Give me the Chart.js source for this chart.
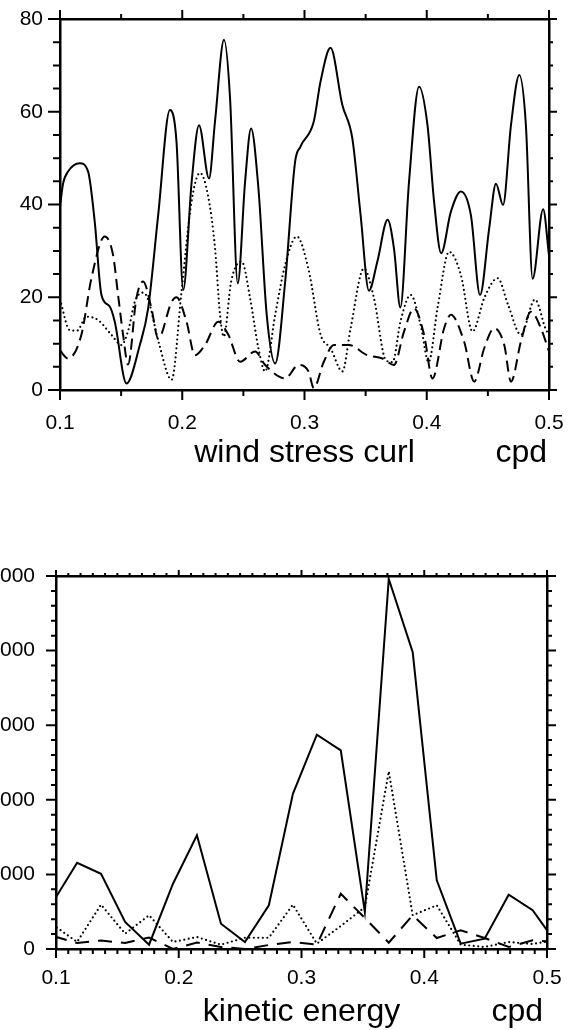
<!DOCTYPE html>
<html>
<head>
<meta charset="utf-8">
<title>Spectra</title>
<script src="https://cdn.jsdelivr.net/npm/chart.js@4.4.0/dist/chart.umd.min.js"></script>
<style>
  html, body { margin: 0; padding: 0; background: #fff; overflow: hidden; }
  #page { position: relative; width: 569px; height: 1030px; overflow: hidden; background: #fff; }
  canvas { position: absolute; left: 0; }
  #curlChart { top: 0; }
  #keChart { top: 520px; }
</style>
</head>
<body>
<div id="page">
  <canvas id="curlChart" width="569" height="480"></canvas>
  <canvas id="keChart" width="569" height="520"></canvas>
</div>
<script>
const FONT = "'Liberation Sans', Arial, Helvetica, sans-serif";

// axis ticks
const freqTicks = [0.1, 0.2, 0.3, 0.4, 0.5];
const curlTicks = [0, 20, 40, 60, 80];
const keTicks = [0, 1000, 2000, 3000, 4000, 5000];

// wind stress curl spectra
const curlFreqSolid = [0.100, 0.1025, 0.1066, 0.1161, 0.1230, 0.1284, 0.1339, 0.1407, 0.1448, 0.1544,
  0.1653, 0.1721, 0.1803, 0.1899, 0.1953, 0.2008, 0.2077, 0.2137, 0.2219, 0.2268,
  0.2342, 0.2391, 0.2454, 0.2514, 0.2563, 0.2623, 0.2691, 0.2760, 0.2842, 0.2923,
  0.2967, 0.3076, 0.3131, 0.3213, 0.3309, 0.3391, 0.3459, 0.3527, 0.3596, 0.3680,
  0.3732, 0.3784, 0.3855, 0.3937, 0.4006, 0.4060, 0.4118, 0.4197, 0.4279, 0.4361,
  0.4436, 0.4511, 0.4566, 0.4624, 0.4689, 0.4757, 0.4811, 0.4866, 0.4952, 0.5000];
const curlSolid = [39.5, 44.5, 47.1, 48.9, 47.1, 36.3, 20.5, 18.0, 14.7, 1.4,
  9.7, 17.6, 37.7, 60.4, 53.5, 21.6, 44.9, 57.1, 45.6, 57.9,
  75.5, 62.9, 23.0, 44.9, 56.4, 43.5, 16.2, 5.7, 23.4, 49.2,
  52.5, 57.9, 66.5, 73.8, 61.5, 54.3, 37.7, 21.4, 27.7, 36.7,
  30.5, 17.8, 44.9, 65.4, 57.1, 40.6, 29.5, 38.4, 42.8, 37.7,
  20.5, 34.9, 44.5, 39.9, 57.1, 67.9, 57.1, 24.0, 39.0, 29.0];

const curlFreqDotted = [0.100, 0.108, 0.114, 0.1216, 0.1311, 0.1420, 0.1503, 0.1560, 0.1612, 0.1680,
  0.1721, 0.1810, 0.1913, 0.1994, 0.2076, 0.2145, 0.2210, 0.2268, 0.2309, 0.2340,
  0.2400, 0.2486, 0.2555, 0.2623, 0.2678, 0.2760, 0.2842, 0.2937, 0.3033, 0.3131,
  0.3213, 0.3310, 0.3377, 0.3486, 0.3568, 0.3664, 0.3720, 0.3787, 0.3869, 0.3950,
  0.4015, 0.4090, 0.4183, 0.4279, 0.4375, 0.4470, 0.4580, 0.4666, 0.4770, 0.4885,
  0.4975, 0.5000];
const curlDotted = [19.5, 12.9, 12.8, 15.8, 15.1, 11.9, 9.7, 13.0, 19.0, 21.0,
  19.5, 10.0, 2.2, 21.2, 40.6, 46.8, 42.0, 30.6, 16.2, 11.5,
  23.4, 27.7, 19.8, 9.0, 4.0, 16.2, 27.0, 33.1, 26.0, 12.0,
  9.0, 4.0, 13.3, 26.2, 19.8, 6.5, 6.0, 15.0, 20.5, 14.0,
  6.0, 18.0, 29.8, 24.8, 12.6, 19.8, 24.1, 18.3, 11.9, 19.5,
  13.0, 12.0];

const curlFreqDashed = [0.1000, 0.1066, 0.1175, 0.1257, 0.1366, 0.1434, 0.1475, 0.1516, 0.1557, 0.1625,
  0.1680, 0.1748, 0.1803, 0.1913, 0.1953, 0.2035, 0.2104, 0.2186, 0.2295, 0.2377,
  0.2473, 0.2596, 0.2678, 0.2842, 0.2951, 0.3033, 0.3076, 0.3158, 0.3240, 0.3363,
  0.3514, 0.3637, 0.3732, 0.3814, 0.3896, 0.3978, 0.4047, 0.4142, 0.4197, 0.4306,
  0.4388, 0.4470, 0.4552, 0.4634, 0.4689, 0.4770, 0.4852, 0.4934, 0.5000];
const curlDashed = [8.5, 6.8, 11.9, 24.1, 33.1, 29.1, 20.5, 11.9, 5.5, 19.8,
  23.4, 17.6, 11.1, 19.0, 20.0, 14.7, 7.5, 9.7, 14.7, 11.9,
  6.1, 8.3, 5.4, 2.5, 5.4, 4.0, 0.4, 6.1, 9.7, 9.7,
  7.5, 6.8, 5.4, 12.6, 17.6, 11.9, 2.5, 13.3, 16.2, 10.4,
  1.8, 9.0, 13.3, 9.7, 1.8, 10.4, 16.9, 13.3, 8.3];

// kinetic energy spectra, one value per frequency band (n / 51.2 cpd)
const keFreq = [0.0977, 0.1172, 0.1367, 0.1563, 0.1758, 0.1953, 0.2148, 0.2344, 0.2539, 0.2734, 0.2930,
  0.3125, 0.3320, 0.3516, 0.3711, 0.3906, 0.4102, 0.4297, 0.4492, 0.4688, 0.4883, 0.5078];
const keSolid = [635, 1156, 1009, 362, 58, 875, 1524, 339, 94, 586, 2081,
  2872, 2663, 496, 4960, 3980, 921, 71, 138, 728, 519, 72];
const keDotted = [322, 94, 594, 205, 452, 94, 161, 58, 151, 151, 594,
  71, 308, 560, 2381, 452, 586, 58, 27, 94, 67, 120];
const keDashed = [174, 80, 114, 80, 154, 0, 87, 27, 0, 54, 94,
  58, 741, 415, 84, 452, 147, 251, 147, 27, 117, 94];

function onStep(v, step) {
  const r = v / step;
  return Math.abs(r - Math.round(r)) < 1e-6;
}

// outward tick marks on all four sides plus the unit label after the axis title
const frameTicks = {
  id: 'frameTicks',
  afterDraw(chart, args, o) {
    const {ctx, chartArea: a} = chart;
    const xs = chart.scales.x, ys = chart.scales.y;
    ctx.save();
    ctx.strokeStyle = '#000';
    ctx.lineWidth = 2;
    ctx.beginPath();
    for (let i = 0; ; i++) {
      const v = xs.min + i * o.xStep;
      if (v > xs.max + 1e-9) break;
      const p = xs.getPixelForValue(v);
      const big = onStep(v, o.xMajor);
      ctx.moveTo(p, a.bottom);
      ctx.lineTo(p, a.bottom + (big ? o.bottom[0] : o.bottom[1]));
      ctx.moveTo(p, a.top);
      ctx.lineTo(p, a.top - (big ? o.top[0] : o.top[1]));
    }
    for (let i = 0; ; i++) {
      const v = ys.min + i * o.yStep;
      if (v > ys.max + 1e-9) break;
      const p = ys.getPixelForValue(v);
      const big = onStep(v, o.yMajor);
      ctx.moveTo(a.left, p);
      ctx.lineTo(a.left - (big ? o.left[0] : o.left[1]), p);
      ctx.moveTo(a.right, p);
      ctx.lineTo(a.right + (big ? o.right[0] : o.right[1]), p);
    }
    ctx.stroke();

    ctx.fillStyle = '#000';
    ctx.font = '32px ' + FONT;
    ctx.textAlign = 'right';
    ctx.textBaseline = 'middle';
    ctx.fillText(o.unit, a.right - o.unitInset, xs.bottom - 32 * 1.2 / 2 - o.titlePad);
    ctx.restore();
  }
};

function series(xs, ys, style) {
  return Object.assign({
    data: xs.map((x, i) => ({x: x, y: ys[i]})),
    xAxisID: 'x',
    yAxisID: 'y',
    borderColor: '#000',
    borderWidth: 2,
    pointRadius: 0,
    fill: false
  }, style);
}

const SOLID = {};
const DOTTED = {borderDash: [0, 4.5], borderCapStyle: 'round', borderWidth: 2.2};

// fixed box size for a scale, without the label overhang padding
function boxSize(prop, size) {
  return s => {
    s[prop] = size;
    s.paddingLeft = s.paddingRight = s.paddingTop = s.paddingBottom = 0;
  };
}

function frameOptions(c) {
  const tickFont = {family: FONT, size: 21};
  const edge = {color: '#000', width: 2.5};
  const hidden = {display: false, drawTicks: false};
  return {
    responsive: false,
    animation: false,
    devicePixelRatio: 1,
    layout: {padding: 0},
    plugins: {
      legend: {display: false},
      tooltip: {enabled: false},
      frameTicks: c.ticks
    },
    scales: {
      x: {
        type: 'linear', position: 'bottom', min: 0.1, max: 0.5,
        afterFit: boxSize('height', c.bottom),
        afterBuildTicks: s => { s.ticks = freqTicks.map(v => ({value: v})); },
        ticks: {padding: c.xPad, font: tickFont, color: '#000', maxRotation: 0, autoSkip: false,
          callback: v => v.toFixed(1)},
        grid: hidden,
        border: edge,
        title: {display: true, text: c.title, color: '#000', font: {family: FONT, size: 32},
          padding: {top: 0, bottom: c.ticks.titlePad}}
      },
      x2: {
        type: 'linear', position: 'top', min: 0.1, max: 0.5,
        afterFit: boxSize('height', c.top),
        ticks: {display: false},
        grid: hidden,
        border: edge
      },
      y: {
        type: 'linear', position: 'left', min: 0, max: c.yMax,
        afterFit: boxSize('width', c.left),
        afterBuildTicks: s => { s.ticks = c.yTicks.map(v => ({value: v})); },
        ticks: {padding: c.yPad, font: tickFont, color: '#000', callback: v => String(v)},
        grid: hidden,
        border: edge
      },
      y2: {
        type: 'linear', position: 'right', min: 0, max: c.yMax,
        afterFit: boxSize('width', c.right),
        ticks: {display: false},
        grid: hidden,
        border: edge
      }
    }
  };
}

const smooth = {cubicInterpolationMode: 'monotone'};

new Chart(document.getElementById('curlChart'), {
  type: 'line',
  data: {
    datasets: [
      series(curlFreqSolid, curlSolid, Object.assign({}, SOLID, smooth)),
      series(curlFreqDotted, curlDotted, Object.assign({}, DOTTED, smooth)),
      series(curlFreqDashed, curlDashed, Object.assign({borderDash: [11, 6]}, smooth))
    ]
  },
  options: frameOptions({
    title: 'wind stress curl', yMax: 80, yTicks: curlTicks,
    left: 60, right: 20, top: 19, bottom: 90, xPad: 21, yPad: 17,
    ticks: {xStep: 0.05, xMajor: 0.1, yStep: 5, yMajor: 20,
      bottom: [10, 6], top: [9, 5], left: [12, 7], right: [8, 4],
      unit: 'cpd', unitInset: 2, titlePad: 7.8}
  }),
  plugins: [frameTicks]
});

new Chart(document.getElementById('keChart'), {
  type: 'line',
  data: {
    datasets: [
      series(keFreq, keSolid, Object.assign({tension: 0}, SOLID)),
      series(keFreq, keDotted, Object.assign({tension: 0}, DOTTED)),
      series(keFreq, keDashed, {tension: 0, borderDash: [14, 9]})
    ]
  },
  options: frameOptions({
    title: 'kinetic energy', yMax: 5000, yTicks: keTicks,
    left: 56, right: 22, top: 56, bottom: 91, xPad: 17, yPad: 21,
    ticks: {xStep: 0.01, xMajor: 0.1, yStep: 200, yMajor: 1000,
      bottom: [9, 5], top: [6, 3], left: [10, 5], right: [9, 5],
      unit: 'cpd', unitInset: 4, titlePad: 8.8}
  }),
  plugins: [frameTicks]
});
</script>
</body>
</html>
